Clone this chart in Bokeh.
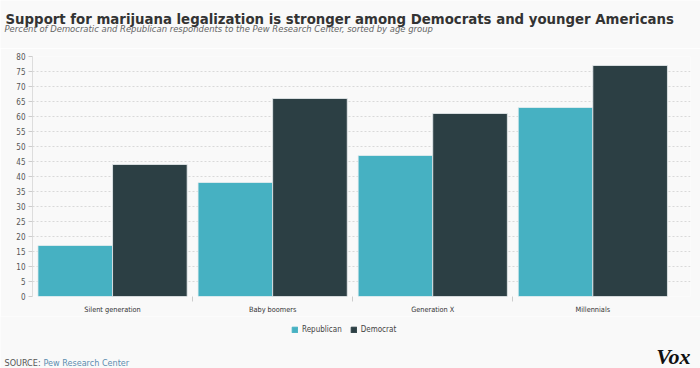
from bokeh.plotting import figure
from bokeh.layouts import column
from bokeh.models import FixedTicker, Label, Legend, LegendItem, Range1d
from bokeh.embed import file_html
from bokeh.resources import INLINE

groups = ["Silent generation", "Baby boomers", "Generation X", "Millennials"]
republican = [17, 38, 47, 63]
democrat = [44, 66, 61, 77]
y_ticks = list(range(0, 81, 5))

title_text = "Support for marijuana legalization is stronger among Democrats and younger Americans"
subtitle_text = "Percent of Democratic and Republican respondents to the Pew Research Center, sorted by age group"

REP_COLOR = "#46b1c2"
DEM_COLOR = "#2c3f44"
BG = "#f9f9f9"
FONT = "'DejaVu Sans Condensed', 'Roboto', sans-serif"

W = 700
HEAD_H, MAIN_H, FOOT_H = 48, 268, 52


def blank(height):
    f = figure(width=W, height=height, output_backend="svg", toolbar_location=None,
               x_range=Range1d(0, 1), y_range=Range1d(0, 1),
               x_axis_location=None, y_axis_location=None, min_border=0)
    f.grid.visible = False
    f.background_fill_color = BG
    f.border_fill_color = BG
    f.outline_line_color = None
    f.frame_align = False
    return f


# ---------- header ----------
head = blank(HEAD_H)
head.add_layout(Label(x=5, y=30, x_units="screen", y_units="screen", text=title_text,
                      text_font=FONT, text_font_style="bold", text_font_size="14.8px",
                      text_color="#333333", text_baseline="alphabetic"))
head.add_layout(Label(x=4, y=20, x_units="screen", y_units="screen", text=subtitle_text,
                      text_font=FONT, text_font_style="italic", text_font_size="9.4px",
                      text_color="#666666", text_baseline="alphabetic"))

# ---------- main chart ----------
p = figure(width=W, height=MAIN_H, output_backend="svg", toolbar_location=None,
           x_range=Range1d(0, 4.11), y_range=Range1d(0, 80),
           min_border_left=32, min_border_right=10, min_border_top=8, min_border_bottom=18)
p.background_fill_color = BG
p.border_fill_color = BG
p.outline_line_color = None
p.frame_align = False

pad = 0.034
bw = (1 - 2 * pad) / 2
idx = list(range(len(groups)))
rx = [i + pad + bw / 2 for i in idx]
dx = [i + pad + bw * 1.5 for i in idx]
p.vbar(x=rx, top=republican, width=bw, fill_color=REP_COLOR, line_color="#e8eef0", line_width=0.8)
p.vbar(x=dx, top=democrat, width=bw, fill_color=DEM_COLOR, line_color="#e8eef0", line_width=0.8)

centers = [i + 0.5 for i in idx]
p.xaxis.ticker = FixedTicker(ticks=centers, minor_ticks=[1, 2, 3])
p.xaxis.major_label_overrides = {c: g for c, g in zip(centers, groups)}
p.xaxis.major_tick_line_color = None
p.xaxis.major_tick_out = 0
p.xaxis.major_tick_in = 0
p.xaxis.minor_tick_line_color = "#cccccc"
p.xaxis.minor_tick_out = 5
p.xaxis.minor_tick_in = 0
p.xaxis.axis_line_color = None
p.xaxis.major_label_text_font = FONT
p.xaxis.major_label_text_font_size = "7.3px"
p.xaxis.major_label_text_color = "#333333"
p.xaxis.major_label_standoff = 3
p.xaxis.axis_label_standoff = 0

p.yaxis.ticker = FixedTicker(ticks=y_ticks)
p.yaxis.major_tick_line_color = "#cccccc"
p.yaxis.major_tick_out = 4
p.yaxis.major_tick_in = 0
p.yaxis.minor_tick_line_color = None
p.yaxis.axis_line_color = "#dddddd"
p.yaxis.major_label_text_font = FONT
p.yaxis.major_label_text_font_size = "8px"
p.yaxis.major_label_text_color = "#555555"
p.yaxis.major_label_standoff = 3

p.xgrid.grid_line_color = None
p.ygrid.grid_line_color = "#d9d9d9"
p.ygrid.grid_line_dash = "2 2"

# ---------- footer: legend + source ----------
foot = blank(FOOT_H)
leg_r = foot.vbar(x=[-5], top=[0], width=0.1, fill_color=REP_COLOR, line_color=REP_COLOR)
leg_d = foot.vbar(x=[-5], top=[0], width=0.1, fill_color=DEM_COLOR, line_color=DEM_COLOR)
legend = Legend(items=[LegendItem(label="Republican", renderers=[leg_r]),
                       LegendItem(label="Democrat", renderers=[leg_d])],
                orientation="horizontal", location=(291, 34),
                background_fill_alpha=0, border_line_color=None,
                label_text_font=FONT, label_text_font_size="8px", label_text_color="#444444",
                glyph_width=7, glyph_height=7, label_height=7, spacing=8, label_standoff=4,
                margin=0, padding=0)
foot.add_layout(legend, "center")

foot.add_layout(Label(x=4, y=6, x_units="screen", y_units="screen", text="SOURCE:",
                      text_font=FONT, text_font_size="9px", text_color="#555555",
                      text_baseline="alphabetic"))
foot.add_layout(Label(x=43, y=6, x_units="screen", y_units="screen", text="Pew Research Center",
                      text_font=FONT, text_font_size="9px", text_color="#5b8db0",
                      text_baseline="alphabetic"))
foot.add_layout(Label(x=690, y=12, x_units="screen", y_units="screen", text="Vox",
                      text_font="Liberation Serif", text_font_style="bold italic",
                      text_font_size="22px", text_color="#111111", text_align="right",
                      text_baseline="alphabetic"))

layout = column(head, p, foot, spacing=0)
open("out.html", "w").write(file_html(layout, INLINE))
